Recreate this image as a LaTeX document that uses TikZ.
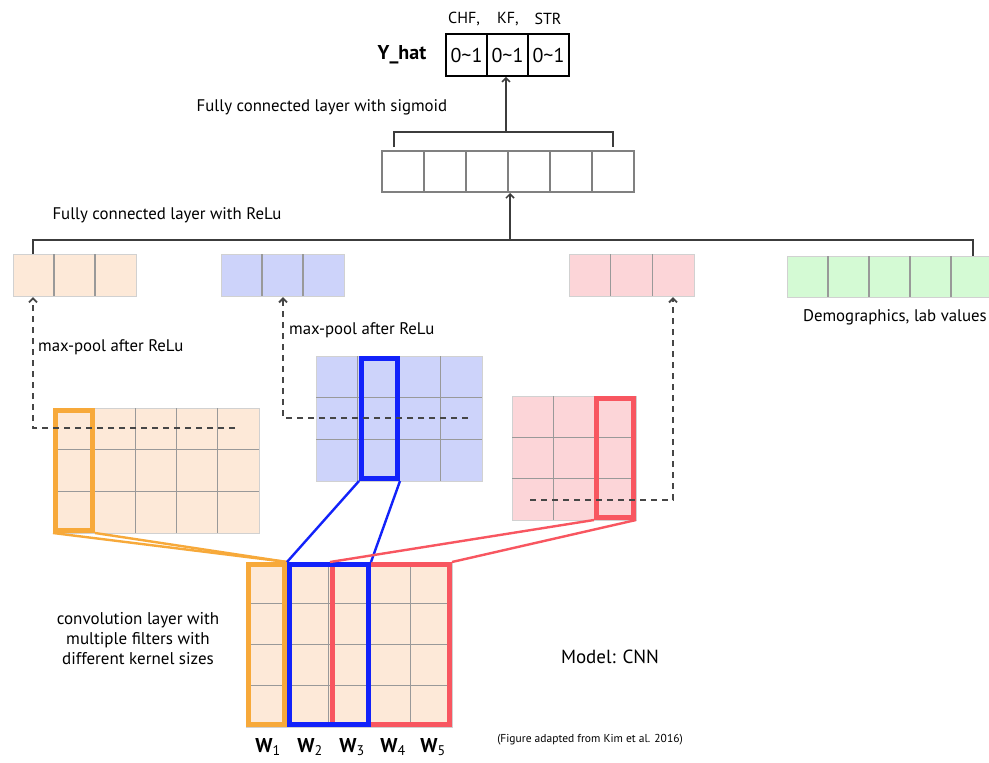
\documentclass[tikz,border=0pt]{standalone}
\usepackage{fontspec}
\setmainfont{PT Sans}
\usetikzlibrary{arrows.meta,calc}
\definecolor{orfill}{RGB}{253,233,216}
\definecolor{blfill}{RGB}{205,211,250}
\definecolor{rdfill}{RGB}{252,213,216}
\definecolor{grfill}{RGB}{212,250,212}
\definecolor{orhl}{RGB}{247,169,58}
\definecolor{blhl}{RGB}{18,34,250}
\definecolor{rdhl}{RGB}{248,86,96}
\definecolor{dashc}{RGB}{70,70,70}
\definecolor{brc}{RGB}{60,60,60}
\newcommand\mygrid[8]{%
  \node[gridbox, fill=#8, minimum width=#4pt, minimum height=#5pt, anchor=north west] (#1) at (#2,#3) {};
  \ifnum#6>1
  \foreach \i in {2,...,#6} {
    \pgfmathsetmacro\xx{#2+(\i-1)*#4/#6}
    \draw[gridline] (\xx,#3) -- ++(0,#5);
  }\fi
  \ifnum#7>1
  \foreach \j in {2,...,#7} {
    \pgfmathsetmacro\yy{#3+(\j-1)*#5/#7}
    \draw[gridline] (#2,\yy) -- ++(#4,0);
  }\fi
}
\begin{document}
\begin{tikzpicture}[x=1pt,y=-1pt,
  gridbox/.style={draw=black!18, line width=1.2pt, inner sep=0pt, rectangle},
  gridline/.style={draw=black!40, line width=1.3pt},
  hl/.style={draw=#1, line width=5pt, inner sep=0pt, rectangle},
  fccell/.style={draw=black!50, line width=2pt, fill=white, minimum width=42pt, minimum height=41pt, inner sep=0pt},
  ycell/.style={draw=black, line width=1.8pt, minimum width=41pt, minimum height=42pt, inner sep=0pt, font=\fontsize{20}{22}\selectfont},
  lab/.style={inner sep=0pt, font=\fontsize{16.8}{20}\selectfont, text=black},
  brk/.style={draw=brc, line width=1.8pt},
  arr/.style={draw=brc, line width=1.5pt, -{Straight Barb[length=4pt,width=8pt]}},
  dsh/.style={draw=dashc, line width=1.8pt, dash pattern=on 6pt off 5pt, -{Straight Barb[length=4pt,width=8pt]}},
  conn/.style={line width=2.4pt}
]
\useasboundingbox[fill=white] (0,0) rectangle (989,763);

% ---------- Y_hat ----------
\node[ycell] (y1) at (466.5,55) {0\textasciitilde1};
\node[ycell] (y2) at (507.5,55) {0\textasciitilde1};
\node[ycell] (y3) at (548.5,55) {0\textasciitilde1};
\node[lab, font=\fontsize{20}{22}\selectfont\bfseries] (yh) at (402,55) {Y\_hat};
\node[lab, font=\fontsize{16}{18}\selectfont] (lchf) at (464,19) {CHF,};
\node[lab, font=\fontsize{16}{18}\selectfont] (lkf) at (508,19) {KF,};
\node[lab, font=\fontsize{16}{18}\selectfont] (lstr) at (548,19) {STR};

% ---------- fully connected sigmoid ----------
\foreach \i in {1,...,6} \node[fccell] (fc\i) at ({382+21+42*(\i-1)},171.5) {};
\node[lab] (tsig) at (322,107) {Fully connected layer with sigmoid};
\coordinate (tbl) at (394,147);
\coordinate (tbr) at (613,147);
\coordinate (tbm) at (506,132);
\draw[brk] (tbl) -- ++(0,-15) -| (tbr);
\draw[arr] (tbm) -- (tbm |- y2.south);

% ---------- pooled rows ----------
\mygrid{ro}{13}{254}{123}{42}{3}{1}{orfill}
\mygrid{rb}{221}{254}{123}{42}{3}{1}{blfill}
\mygrid{rr}{569}{254}{125}{42}{3}{1}{rdfill}
\mygrid{rg}{787}{256}{205}{41}{5}{1}{grfill}
\node[lab, anchor=east] (tdemo) at (987,317) {Demographics, lab values};
\node[lab] (trelu) at (167,215) {Fully connected layer with ReLu};

\coordinate (bbl) at (33,254);
\coordinate (bbc) at (33,240);
\coordinate (bbr) at (973,256);
\coordinate (bbm) at (510,240);
\draw[brk] (bbl) -- (bbc) -| (bbr);
\draw[arr] (bbm) -- (bbm |- fc4.south);

% ---------- feature maps ----------
\mygrid{gl}{53}{408}{206}{125}{5}{3}{orfill}
\mygrid{gm}{316}{356}{166}{125}{4}{3}{blfill}
\mygrid{gr}{512}{396}{124}{124}{3}{3}{rdfill}
\mygrid{gb}{246}{562}{206}{165}{5}{4}{orfill}

% highlights
\node[hl=orhl, minimum width=37pt, minimum height=120pt] (hlo) at (74,470.5) {};
\node[hl=blhl, minimum width=36pt, minimum height=120pt] (hlm) at (379.5,418.5) {};
\node[hl=rdhl, minimum width=37pt, minimum height=119pt] (hlr) at (615,458) {};
\node[hl=orhl, minimum width=36pt, minimum height=160pt] (hbo) at (266.5,644.5) {};
\node[hl=rdhl, minimum width=117pt, minimum height=160pt] (hbr) at (391,644.5) {};
\node[hl=blhl, minimum width=79pt, minimum height=160pt] (hbb) at (329,644.5) {};

% connectors from filters
\draw[conn, orhl] (hlo.south west) -- (hbo.north east);
\draw[conn, orhl] (hlo.south east) -- (hbo.north east);
\draw[conn, blhl] (hlm.south west) -- (hbb.north west);
\draw[conn, blhl] (hlm.south east) -- (hbb.north east);
\draw[conn, rdhl] (hlr.south west) -- (hbr.north west);
\draw[conn, rdhl] (hlr.south east) -- (hbr.north east);

% dashed max-pool arrows
\coordinate (d1) at (235,428);
\coordinate (c1) at (33,428);
\coordinate (d2) at (468,418);
\coordinate (c2) at (283,418);
\coordinate (d3) at (530,500);
\coordinate (c3) at (673,500);
\draw[dsh] (d1) -- (c1) -- (c1 |- ro.south);
\draw[dsh] (d2) -- (c2) -- (c2 |- rb.south);
\draw[dsh] (d3) -- (c3) -- (c3 |- rr.south);
\node[lab, anchor=west] (tmp1) at (38,347) {max-pool after ReLu};
\node[lab, anchor=west] (tmp2) at (289,330) {max-pool after ReLu};

% ---------- texts ----------
\node[lab, align=center, font=\fontsize{17}{20}\selectfont] (tconv) at (138,639) {convolution layer with\\multiple filters with\\different kernel sizes};
\node[lab, font=\fontsize{19}{21}\selectfont] (tmodel) at (610,657) {Model: CNN};
\node[lab, font=\fontsize{11.5}{13}\selectfont] (tfig) at (590,740) {(Figure adapted from Kim et al. 2016)};
\foreach \k/\x in {1/268,2/310,3/352,4/393,5/433}
  \node[lab, font=\fontsize{20}{22}\selectfont\bfseries] (w\k) at (\x,747) {W\textsubscript{\normalfont\fontsize{14}{14}\selectfont\k}};
\end{tikzpicture}
\end{document}
